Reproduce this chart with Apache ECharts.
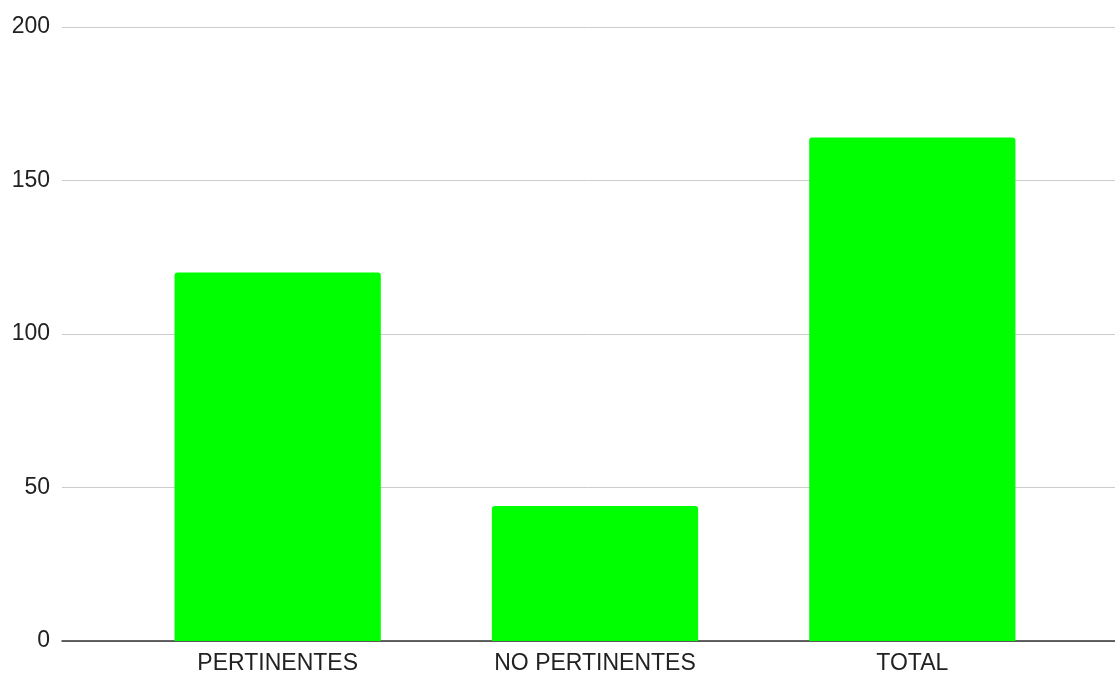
<!DOCTYPE html>
<html>
<head>
<meta charset="utf-8">
<style>
  html, body { margin: 0; padding: 0; background: #fff; }
  #main { width: 1115px; height: 675px; }
</style>
<script src="https://cdn.jsdelivr.net/npm/echarts@6/dist/echarts.min.js"></script>
</head>
<body>
<div id="main"></div>
<script>
var categories = ['PERTINENTES', 'NO PERTINENTES', 'TOTAL'];
var values = [120, 44, 164];
var yTicks = { min: 0, max: 200, interval: 50 };

var chart = echarts.init(document.getElementById('main'));
var font = "'Liberation Sans', Arial, sans-serif";

var option = {
    animation: false,
    // grid 0 carries the full width gridlines, grid 1 the bars
    grid: [
        { left: 62, right: 0, top: 27, bottom: 34 },
        { left: 119, right: 44, top: 27, bottom: 34 }
    ],
    xAxis: [{
        gridIndex: 0,
        type: 'category',
        data: [''],
        axisLine: { lineStyle: { color: '#333', width: 1.5 } },
        axisTick: { show: false },
        axisLabel: { show: false }
    }, {
        gridIndex: 1,
        type: 'category',
        data: categories,
        axisLine: { show: false },
        axisTick: { show: false },
        axisLabel: { color: '#222', fontSize: 23, fontFamily: font, margin: 11 }
    }],
    yAxis: [{
        gridIndex: 0,
        type: 'value',
        min: yTicks.min,
        max: yTicks.max,
        interval: yTicks.interval,
        axisLine: { show: false },
        axisTick: { show: false },
        axisLabel: { color: '#222', fontSize: 23, fontFamily: font, margin: 12 },
        splitLine: { lineStyle: { color: '#ccc', width: 1 } }
    }, {
        gridIndex: 1,
        type: 'value',
        min: yTicks.min,
        max: yTicks.max,
        interval: yTicks.interval,
        show: false,
        splitLine: { show: false }
    }],
    series: [{
        type: 'bar',
        xAxisIndex: 1,
        yAxisIndex: 1,
        data: values,
        barWidth: '65%',
        itemStyle: { color: '#00ff00', borderRadius: [3, 3, 0, 0] },
        z: 1
    }]
};

chart.setOption(option);
</script>
</body>
</html>
